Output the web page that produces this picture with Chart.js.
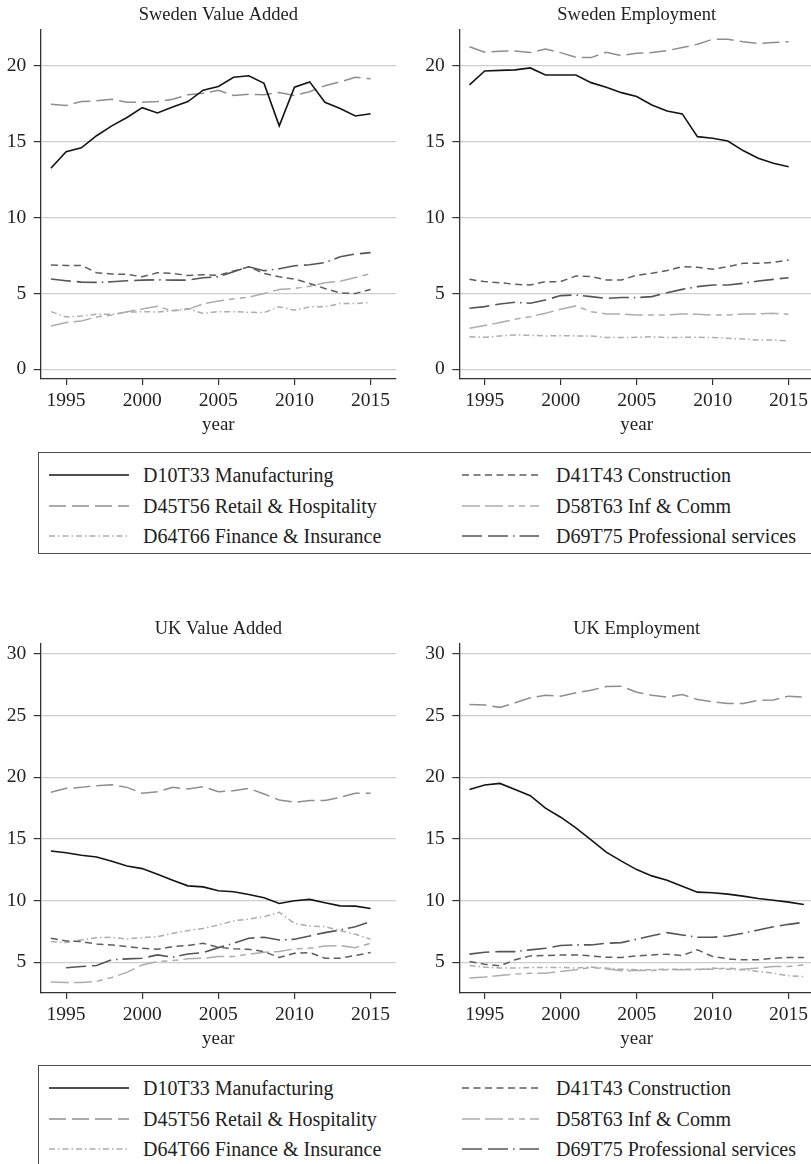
<!DOCTYPE html>
<html>
<head>
<meta charset="utf-8">
<script src="https://cdn.jsdelivr.net/npm/chart.js@4.4.1/dist/chart.umd.min.js"></script>
<style>
  html, body { margin: 0; padding: 0; background: #ffffff; }
  #page { position: relative; width: 811px; height: 1164px; overflow: hidden; background: #ffffff;
          font-family: "Liberation Serif", "Times New Roman", serif; color: #222; }
  canvas { position: absolute; }
  .legend { position: absolute; left: 38px; width: 800px; height: 102px; box-sizing: border-box;
            border: 1.3px solid #4a4a4a; }
  .item { position: absolute; height: 24px; }
  .item svg { position: absolute; top: 10px; }
  .item span { position: absolute; top: 0; line-height: 24px; font-size: 20px; white-space: nowrap; color: #222; }
</style>
</head>
<body>
<div id="page">
  <canvas id="seVA" width="400" height="440" style="left:0;top:0"></canvas>
  <canvas id="seE" width="414" height="440" style="left:400px;top:0"></canvas>
  <div class="legend" id="legendTop" style="top:452px"></div>
  <canvas id="ukVA" width="400" height="440" style="left:0;top:614px"></canvas>
  <canvas id="ukE" width="414" height="440" style="left:400px;top:614px"></canvas>
  <div class="legend" id="legendBottom" style="top:1065px"></div>
</div>
<script>
// Years covered by each panel
const years = [1994,1995,1996,1997,1998,1999,2000,2001,2002,2003,2004,2005,2006,2007,2008,2009,2010,2011,2012,2013,2014,2015];
const yearsUKEmp = [1994,1995,1996,1997,1998,1999,2000,2001,2002,2003,2004,2005,2006,2007,2008,2009,2010,2011,2012,2013,2014,2015,2016];

// Sectors (legend order)
const sectorNames = [
  "D10T33 Manufacturing",
  "D41T43 Construction",
  "D45T56 Retail & Hospitality",
  "D58T63 Inf & Comm",
  "D64T66 Finance & Insurance",
  "D69T75 Professional services"
];

// Tick labels
const xTicks = [1995, 2000, 2005, 2010, 2015];
const yTicksSweden = [0, 5, 10, 15, 20];
const yTicksUK = [5, 10, 15, 20, 25, 30];

// Sweden, value added share (%)
const seVA_manuf   = [13.25,14.35,14.6,15.4,16.05,16.6,17.25,16.9,17.3,17.65,18.4,18.65,19.25,19.35,18.85,16.05,18.6,18.95,17.6,17.2,16.7,16.85];
const seVA_constr  = [6.87,6.85,6.85,6.37,6.28,6.26,6.1,6.37,6.32,6.19,6.23,6.2,6.48,6.76,6.32,6.1,5.95,5.66,5.33,5.04,5.0,5.26];
const seVA_retail  = [17.47,17.4,17.65,17.7,17.8,17.6,17.6,17.65,17.8,18.1,18.2,18.4,18.05,18.13,18.1,18.25,18.05,18.3,18.7,18.95,19.25,19.15];
const seVA_infcomm = [2.85,3.08,3.19,3.45,3.58,3.8,3.97,4.15,3.85,3.95,4.32,4.5,4.65,4.75,5.0,5.26,5.33,5.48,5.7,5.8,6.05,6.3];
const seVA_finance = [3.8,3.45,3.52,3.63,3.63,3.76,3.8,3.78,3.87,4.0,3.68,3.8,3.8,3.76,3.74,4.12,3.9,4.12,4.12,4.33,4.33,4.4];
const seVA_prof    = [5.95,5.84,5.75,5.73,5.77,5.84,5.88,5.9,5.88,5.88,6.04,6.1,6.43,6.76,6.5,6.63,6.83,6.89,7.03,7.42,7.6,7.69];

// Sweden, employment share (%)
const seE_manuf   = [18.75,19.67,19.71,19.74,19.87,19.4,19.4,19.4,18.9,18.6,18.24,17.98,17.43,17.03,16.84,15.34,15.23,15.05,14.42,13.91,13.58,13.36];
const seE_constr  = [5.93,5.78,5.71,5.6,5.56,5.78,5.78,6.15,6.11,5.89,5.89,6.2,6.33,6.51,6.77,6.73,6.59,6.77,6.99,6.99,7.05,7.21];
const seE_retail  = [21.27,20.9,20.97,20.99,20.88,21.12,20.88,20.57,20.55,20.9,20.68,20.84,20.88,21.01,21.21,21.43,21.76,21.76,21.6,21.49,21.54,21.6];
const seE_infcomm = [2.7,2.88,3.08,3.3,3.47,3.69,3.96,4.18,3.8,3.65,3.65,3.58,3.58,3.58,3.65,3.63,3.58,3.58,3.65,3.65,3.69,3.63];
const seE_finance = [2.15,2.11,2.2,2.26,2.24,2.2,2.22,2.2,2.2,2.09,2.09,2.11,2.15,2.09,2.11,2.11,2.09,2.04,2.0,1.93,1.93,1.87];
const seE_prof    = [4.02,4.13,4.31,4.42,4.35,4.57,4.86,4.9,4.79,4.68,4.73,4.73,4.79,5.05,5.27,5.45,5.56,5.56,5.67,5.82,5.93,6.04];

// UK, value added share (%)
const ukVA_manuf   = [14.02,13.88,13.67,13.53,13.18,12.8,12.59,12.13,11.65,11.19,11.11,10.79,10.71,10.49,10.22,9.76,9.98,10.09,9.82,9.57,9.55,9.36];
const ukVA_constr  = [6.94,6.72,6.67,6.48,6.4,6.26,6.13,6.05,6.26,6.35,6.53,6.21,6.08,6.05,5.86,5.38,5.73,5.78,5.32,5.32,5.54,5.78];
const ukVA_retail  = [18.78,19.1,19.18,19.32,19.4,19.18,18.7,18.83,19.18,19.05,19.24,18.83,18.91,19.1,18.64,18.16,17.97,18.11,18.11,18.37,18.7,18.7];
const ukVA_infcomm = [3.39,3.36,3.36,3.44,3.76,4.17,4.78,5.05,5.13,5.27,5.32,5.46,5.46,5.65,5.81,5.86,6.08,6.13,6.32,6.35,6.18,6.53];
const ukVA_finance = [6.67,6.59,6.8,6.99,7.02,6.88,6.99,7.07,7.34,7.56,7.74,8.01,8.36,8.5,8.69,9.04,8.15,7.93,7.88,7.56,7.26,6.86];
const ukVA_prof    = [null,4.55,4.65,4.73,5.19,5.27,5.32,5.59,5.4,5.67,5.78,6.18,6.53,6.94,7.02,6.8,6.86,7.13,7.4,7.61,7.88,8.28];

// UK, employment share (%)
const ukE_manuf   = [19.0,19.37,19.5,19.0,18.51,17.49,16.76,15.9,14.93,13.93,13.2,12.51,12.0,11.65,11.16,10.68,10.63,10.52,10.36,10.17,10.03,9.87,9.68];
const ukE_constr  = [5.05,4.84,4.7,5.19,5.51,5.54,5.59,5.59,5.51,5.4,5.38,5.51,5.59,5.65,5.54,6.0,5.46,5.27,5.19,5.19,5.32,5.38,5.38];
const ukE_retail  = [25.91,25.86,25.67,26.04,26.45,26.66,26.58,26.85,27.06,27.36,27.38,26.9,26.66,26.5,26.72,26.31,26.12,25.99,25.99,26.23,26.26,26.58,26.5];
const ukE_infcomm = [3.71,3.79,3.92,4.03,4.11,4.11,4.25,4.38,4.57,4.46,4.3,4.33,4.33,4.38,4.38,4.43,4.43,4.52,4.43,4.52,4.65,4.65,4.78];
const ukE_finance = [4.73,4.6,4.52,4.52,4.57,4.57,4.57,4.52,4.6,4.52,4.43,4.38,4.38,4.43,4.43,4.38,4.52,4.43,4.38,4.25,4.11,3.9,3.84];
const ukE_prof    = [5.65,5.81,5.86,5.86,6.0,6.13,6.35,6.4,6.4,6.53,6.59,6.86,7.15,7.4,7.21,7.02,7.02,7.13,7.34,7.61,7.88,8.07,8.23];

// Line styles per sector (monochrome scheme)
const sectorColors = ['#141414', '#5e5e5e', '#8e8e8e', '#adadad', '#adadad', '#555555'];
const sectorDashes = [[], [7, 4.5], [17, 6], [18, 5, 18, 5, 6, 5, 6, 5], [6, 3, 1.5, 3], [20, 6, 20, 5, 1.5, 5]];
const sectorWidths = [1.6, 1.5, 1.5, 1.5, 1.5, 1.6];

const FONT = "'Liberation Serif', 'Times New Roman', serif";
const INK = '#222222';
const AXIS = '#333333';
const GRID = '#cdcdcd';

function toPoints(yrs, vals) {
  const pts = [];
  yrs.forEach((yr, i) => { if (vals[i] !== null && vals[i] !== undefined) pts.push({ x: yr, y: vals[i] }); });
  return pts;
}

function makePanel(canvasId, title, yrs, seriesList, yMin, yMax, yTicks, yAxisWidth, padRight) {
  const datasets = seriesList.map((vals, k) => ({
    label: sectorNames[k],
    data: toPoints(yrs, vals),
    borderColor: sectorColors[k],
    borderWidth: sectorWidths[k],
    borderDash: sectorDashes[k],
    pointRadius: 0,
    tension: 0,
    fill: false
  }));
  new Chart(document.getElementById(canvasId), {
    type: 'line',
    data: { datasets },
    options: {
      responsive: false,
      animation: false,
      devicePixelRatio: 1,
      layout: { padding: { left: 0, right: padRight, top: 0, bottom: 0 } },
      plugins: {
        legend: { display: false },
        tooltip: { enabled: false },
        title: {
          display: true,
          text: title,
          fullSize: false,
          color: INK,
          font: { family: FONT, size: 18.5, weight: 'normal' },
          padding: { top: 4, bottom: 3.8 }
        }
      },
      scales: {
        x: {
          type: 'linear',
          min: 1993.33,
          max: 2016.67,
          afterBuildTicks: s => { s.ticks = xTicks.map(v => ({ value: v })); },
          afterFit: s => { s.height = 61; },
          ticks: {
            color: INK,
            font: { family: FONT, size: 19.5 },
            padding: 4,
            maxRotation: 0,
            autoSkip: false,
            callback: v => String(v)
          },
          grid: { drawOnChartArea: false, drawTicks: true, tickLength: 6, tickColor: AXIS, lineWidth: 1.2 },
          border: { display: true, color: AXIS, width: 1.3 },
          title: {
            display: true,
            text: 'year',
            color: INK,
            font: { family: FONT, size: 19 },
            padding: { top: 0, bottom: 3.6 }
          }
        },
        y: {
          type: 'linear',
          min: yMin,
          max: yMax,
          afterBuildTicks: s => { s.ticks = yTicks.map(v => ({ value: v })); },
          afterFit: s => { s.width = yAxisWidth; },
          ticks: {
            color: INK,
            font: { family: FONT, size: 19.5 },
            padding: 7.5,
            callback: v => String(v)
          },
          grid: { color: GRID, lineWidth: 1.2, drawTicks: true, tickLength: 7, tickColor: AXIS },
          border: { display: true, color: AXIS, width: 1.3 }
        }
      }
    }
  });
}

makePanel('seVA', 'Sweden Value Added', years,
  [seVA_manuf, seVA_constr, seVA_retail, seVA_infcomm, seVA_finance, seVA_prof],
  -0.64, 22.37, yTicksSweden, 40.7, 4);
makePanel('seE', 'Sweden Employment', years,
  [seE_manuf, seE_constr, seE_retail, seE_infcomm, seE_finance, seE_prof],
  -0.64, 22.37, yTicksSweden, 59.3, 0);
makePanel('ukVA', 'UK Value Added', years,
  [ukVA_manuf, ukVA_constr, ukVA_retail, ukVA_infcomm, ukVA_finance, ukVA_prof],
  2.5, 30.81, yTicksUK, 40.7, 4);
makePanel('ukE', 'UK Employment', yearsUKEmp,
  [ukE_manuf, ukE_constr, ukE_retail, ukE_infcomm, ukE_finance, ukE_prof],
  2.5, 30.81, yTicksUK, 59.3, 0);

// Legend: two columns, three rows, sample line + label
function buildLegend(el) {
  const colLine = [10, 423];
  const colLineW = [80, 77];
  const colText = [104, 517];
  const rowMid = [21.8, 52.5, 83.3];
  sectorNames.forEach((name, k) => {
    const col = k % 2, row = Math.floor(k / 2);
    const item = document.createElement('div');
    item.className = 'item';
    item.style.left = '0px';
    item.style.top = (rowMid[row] - 12) + 'px';
    const w = colLineW[col];
    const dash = sectorDashes[k].length ? sectorDashes[k].join(' ') : 'none';
    item.innerHTML =
      '<svg width="' + w + '" height="4" style="left:' + colLine[col] + 'px">' +
      '<line x1="0" y1="2" x2="' + w + '" y2="2" stroke="' + sectorColors[k] + '" stroke-width="' +
      sectorWidths[k] + '" stroke-dasharray="' + dash + '"/></svg>' +
      '<span style="left:' + colText[col] + 'px"></span>';
    item.querySelector('span').textContent = name;
    el.appendChild(item);
  });
}
buildLegend(document.getElementById('legendTop'));
buildLegend(document.getElementById('legendBottom'));
</script>
</body>
</html>
